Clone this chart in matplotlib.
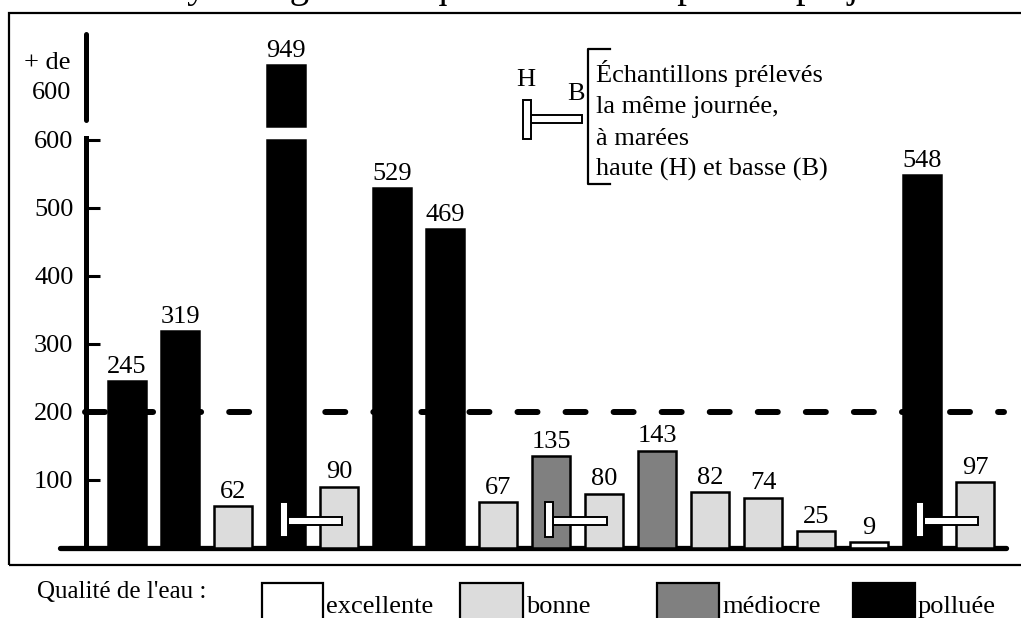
import matplotlib
matplotlib.use("Agg")
import matplotlib.pyplot as plt
from matplotlib.patches import Rectangle
from matplotlib.lines import Line2D

plt.rcParams['font.family'] = ['Liberation Serif', 'DejaVu Serif']
plt.rcParams['lines.scale_dashes'] = False

# ---------------- data ----------------
values = [245, 319, 62, 949, 90, 529, 469, 67, 135, 80, 143, 82, 74, 25, 9, 548, 97]
quality = ['polluée', 'polluée', 'bonne', 'polluée', 'bonne', 'polluée', 'polluée',
           'bonne', 'médiocre', 'bonne', 'médiocre', 'bonne', 'bonne', 'bonne',
           'excellente', 'polluée', 'bonne']
tide_pairs = [(3, 4), (8, 9), (15, 16)]          # (marée haute, marée basse)
yticks = [100, 200, 300, 400, 500, 600]
ytick_labels = ['100', '200', '300', '400', '500', '600']
threshold = 200
axis_cut = 600
legend_labels = ['excellente', 'bonne', 'médiocre', 'polluée']
legend_title = "Qualité de l'eau :"
title = "Moyenne géométrique des valeurs pour le projet"
note_lines = ["Échantillons prélevés", "la même journée,", "à marées", "haute (H) et basse (B)"]
upper_label = ["+ de", "600"]

colors = {'excellente': 'white', 'bonne': '#dcdcdc', 'médiocre': '#808080', 'polluée': 'black'}

# ---------------- layout helpers ----------------
W, H = 1021, 618
fig = plt.figure(figsize=(W / 100, H / 100), dpi=100)
FS = 19


def fx(px):
    return px / W


def fy(py):
    return 1 - py / H


X0, DX = 127, 53.0


def dx(px):
    return (px - X0) / DX


xlim = (dx(0), dx(W))

# lower axes: 0 .. 600
ax = fig.add_axes([0, fy(548), 1, (548 - 140) / H])
ax.set_xlim(*xlim)
ax.set_ylim(0, axis_cut)
ax.patch.set_visible(False)
# upper axes: values above 600 (broken axis)
ax_up = fig.add_axes([0, fy(126), 1, (126 - 34) / H])
ax_up.set_xlim(*xlim)
ax_up.set_ylim(axis_cut, 1126)
ax_up.axis('off')

# spines / ticks
for s in ['top', 'right']:
    ax.spines[s].set_visible(False)
ax.spines['left'].set_position(('data', dx(86)))
ax.spines['left'].set_bounds(0, 603)
ax.spines['left'].set_linewidth(3.6)
ax.spines['bottom'].set_bounds(dx(60), dx(1006))
ax.spines['bottom'].set_linewidth(3.8)
ax.spines['bottom'].set_capstyle('round')
ax.set_xticks([])
ax.set_yticks(yticks)
ax.set_yticklabels(ytick_labels)
ax.tick_params(axis='y', direction='in', length=10, width=2.2, pad=9, labelsize=FS)

# upper axis segment
ax_up.add_line(Line2D([dx(86), dx(86)], [0.06, 1.0], transform=ax_up.get_xaxis_transform(),
                      color='black', lw=3.6, solid_capstyle='round', clip_on=False))
fig.text(fx(71), fy(63), upper_label[0], ha='right', va='center', fontsize=FS)
fig.text(fx(71), fy(93), upper_label[1], ha='right', va='center', fontsize=FS)

# threshold dashed line
ax.plot([dx(85), dx(1004)], [threshold, threshold], color='black', lw=4.3,
        dashes=(14.4, 20.2), dash_capstyle='round', zorder=2, clip_on=False)

# bars
for i, (v, q) in enumerate(zip(values, quality)):
    ax.bar(i, min(v, axis_cut), width=0.72, color=colors[q], edgecolor='black',
           linewidth=1.8, zorder=3, clip_on=False)
    target = ax
    if v > axis_cut:
        ax_up.bar(i, v - axis_cut, bottom=axis_cut, width=0.72, color=colors[q],
                  edgecolor='black', linewidth=1.8, zorder=3, clip_on=False)
        target = ax_up
    target.annotate(str(v), (i, v), xytext=(0, 6), textcoords='offset points',
                    ha='center', va='baseline', fontsize=FS, annotation_clip=False)

# H / B markers
for i, j in tide_pairs:
    ax.add_patch(Rectangle((i + 0.045, 33.8), (j + 0.065) - (i + 0.045), 11.8,
                           fc='white', ec='black', lw=1.4, zorder=4, clip_on=False))
    ax.add_patch(Rectangle((i - 0.105, 16.2), 0.15, 51.4,
                           fc='white', ec='black', lw=1.4, zorder=5, clip_on=False))

# key for H/B (figure coordinates)
fig.patches.append(Rectangle((fx(531), fy(123)), fx(582) - fx(531), fy(115) - fy(123),
                             transform=fig.transFigure, fc='white', ec='black', lw=1.4))
fig.patches.append(Rectangle((fx(523), fy(139)), fx(531) - fx(523), fy(100) - fy(139),
                             transform=fig.transFigure, fc='white', ec='black', lw=1.4))
fig.text(fx(526), fy(80), 'H', ha='center', va='center', fontsize=FS)
fig.text(fx(576), fy(94), 'B', ha='center', va='center', fontsize=FS)
fig.lines.append(Line2D([fx(610), fx(588), fx(588), fx(610)], [fy(49), fy(49), fy(184), fy(184)],
                        transform=fig.transFigure, color='black', lw=1.6))
for k, line in enumerate(note_lines):
    fig.text(fx(596), fy(82 + 31.3 * k), line, ha='left', va='baseline', fontsize=FS)

# outer frame
fig.patches.append(Rectangle((fx(9), fy(565)), fx(1040) - fx(9), fy(13) - fy(565),
                             transform=fig.transFigure, fc='none', ec='black', lw=1.6))

# title, cut by the top edge as in the reference (only descenders visible)
fig.text(fx(133), fy(-3), title, ha='left', va='baseline', fontsize=28)

# legend
fig.text(fx(37), fy(598), legend_title, ha='left', va='baseline', fontsize=18)
box_x = [(262, 323), (460, 523), (657, 719), (853, 915)]
for (x0, x1), lab in zip(box_x, legend_labels):
    fig.patches.append(Rectangle((fx(x0), fy(650)), fx(x1) - fx(x0), fy(583) - fy(650),
                                 transform=fig.transFigure, fc=colors[lab], ec='black', lw=1.6))
    fig.text(fx(x1 + 3), fy(613), lab, ha='left', va='baseline', fontsize=FS)

fig.savefig('out.png', dpi=100)
